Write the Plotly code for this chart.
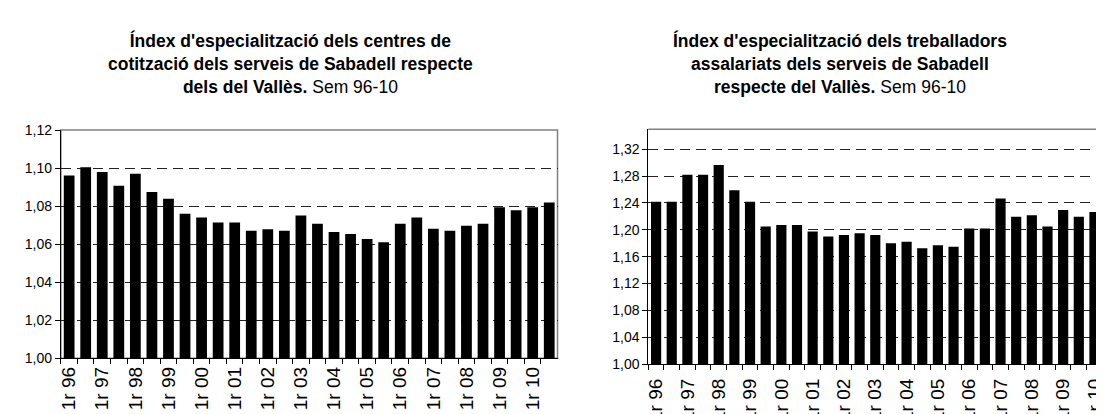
import plotly.graph_objects as go

years = ["96", "97", "98", "99", "00", "01", "02", "03", "04", "05", "06", "07", "08", "09", "10"]
categories = []
for yy in years:
    categories.append("1r " + yy)
    categories.append("2n " + yy)
tick_labels = [c if c.startswith("1r") else "" for c in categories]

centres_values = [1.0961, 1.1005, 1.0980, 1.0908, 1.0971, 1.0874, 1.0839, 1.0760, 1.0741, 1.0714,
                  1.0714, 1.0671, 1.0679, 1.0671, 1.0751, 1.0708, 1.0664, 1.0654, 1.0627, 1.0610,
                  1.0708, 1.0741, 1.0681, 1.0671, 1.0697, 1.0708, 1.0795, 1.0778, 1.0795, 1.0820]

treballadors_values = [1.2419, 1.2420, 1.2820, 1.2820, 1.2967, 1.2590, 1.2420, 1.2048, 1.2071, 1.2071,
                       1.1976, 1.1900, 1.1924, 1.1948, 1.1924, 1.1800, 1.1824, 1.1724, 1.1771, 1.1748,
                       1.2019, 1.2019, 1.2467, 1.2195, 1.2219, 1.2048, 1.2295, 1.2195, 1.2267, 1.2143]

W, H = 1104, 414
FONT = "Liberation Sans, Arial, sans-serif"

# pixel geometry
L_x0, L_x1, L_y0, L_y1 = 50, 548, 119, 357
R_x0, R_x1, R_y0, R_y1 = 639, 1104, 118, 363

def dom_x(a, b):
    return [a / W, b / W]

def dom_y(top, bottom):
    return [1 - bottom / H, 1 - top / H]

fig = go.Figure()
fig.add_trace(go.Bar(x=categories, y=centres_values, marker=dict(color="black", line=dict(width=0)),
                     xaxis="x", yaxis="y", showlegend=False))
fig.add_trace(go.Bar(x=categories, y=treballadors_values, marker=dict(color="black", line=dict(width=0)),
                     xaxis="x2", yaxis="y2", showlegend=False))

grid = dict(showgrid=True, gridcolor="#222222", gridwidth=1, griddash="10px,6px")
yax_common = dict(tickformat=".2f", ticks="outside", ticklen=5, tickcolor="black",
                  showline=True, linecolor="black", linewidth=1, zeroline=False,
                  tickfont=dict(family=FONT, size=14, color="black"), **grid)
xax_common = dict(type="category", tickmode="array", tickvals=categories, ticktext=tick_labels,
                  tickangle=-90, ticks="outside", ticklen=5, tickcolor="black", tickson="boundaries",
                  showline=True, linecolor="black", linewidth=1, showgrid=False,
                  tickfont=dict(family=FONT, size=19, color="black"))

fig.update_layout(
    width=W, height=H,
    margin=dict(l=0, r=0, t=0, b=0),
    paper_bgcolor="white", plot_bgcolor="white",
    separators=",.",
    bargap=0.35,
    xaxis=dict(domain=dom_x(L_x0, L_x1), anchor="y", range=[-0.5, 29.5], **xax_common),
    yaxis=dict(domain=dom_y(L_y0, L_y1), anchor="x", range=[1.0, 1.12], dtick=0.02, **yax_common),
    xaxis2=dict(domain=dom_x(R_x0, R_x1), anchor="y2", range=[-0.5, 29.12],
                ticklabelstandoff=6, **xax_common),
    yaxis2=dict(domain=dom_y(R_y0, R_y1), anchor="x2", range=[1.0, 1.35],
                tickvals=[1.00, 1.04, 1.08, 1.12, 1.16, 1.20, 1.24, 1.28, 1.32], **yax_common),
)

# frames (gray top/right borders)
fig.add_shape(type="rect", xref="x domain", yref="y domain", x0=0, x1=1, y0=0, y1=1,
              line=dict(color="#808080", width=1.5), layer="below")
fig.add_shape(type="line", xref="x2 domain", yref="y2 domain", x0=0, x1=1, y0=1, y1=1,
              line=dict(color="#808080", width=1.5), layer="below")

title_font = dict(family=FONT, size=17.5, color="black")
fig.add_annotation(x=280 / W, y=1 - 12 / H, xref="paper", yref="paper", xanchor="center", yanchor="top",
                   showarrow=False, align="center", font=title_font,
                   text="<b>Índex d'especialització dels centres de</b><br>"
                        "<b>cotització dels serveis de Sabadell respecte</b><br>"
                        "<b>dels del Vallès.</b> Sem 96-10")
fig.add_annotation(x=831 / W, y=1 - 12 / H, xref="paper", yref="paper", xanchor="center", yanchor="top",
                   showarrow=False, align="center", font=title_font,
                   text="<b>Índex d'especialització dels treballadors</b><br>"
                        "<b>assalariats dels serveis de Sabadell</b><br>"
                        "<b>respecte del Vallès.</b> Sem 96-10")

fig.write_html("out.html")
